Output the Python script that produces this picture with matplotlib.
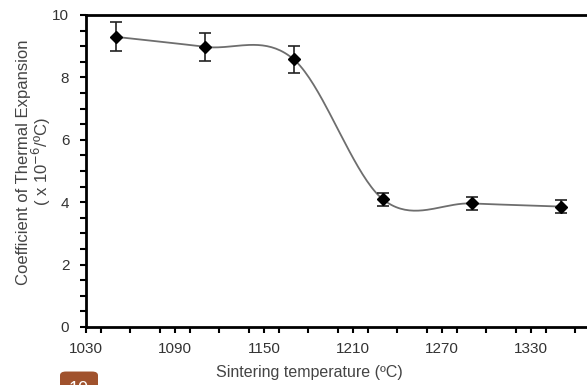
import numpy as np
import matplotlib
matplotlib.use("Agg")
import matplotlib.pyplot as plt
from matplotlib.ticker import MultipleLocator
from matplotlib.patches import FancyBboxPatch

temps = [1050, 1110, 1170, 1230, 1290, 1350]
cte = [9.3, 8.98, 8.58, 4.1, 3.96, 3.86]
err = [0.46, 0.45, 0.43, 0.21, 0.2, 0.2]
xticks = [1030, 1090, 1150, 1210, 1270, 1330]
yticks = [0, 2, 4, 6, 8, 10]

plt.rcParams['font.family'] = ['Liberation Sans', 'DejaVu Sans']

def catmull_rom(xs, ys, n=40):
    xs = np.asarray(xs, float); ys = np.asarray(ys, float)
    px = np.concatenate([[2*xs[0]-xs[1]], xs, [2*xs[-1]-xs[-2]]])
    py = np.concatenate([[2*ys[0]-ys[1]], ys, [2*ys[-1]-ys[-2]]])
    ox, oy = [], []
    for i in range(1, len(px)-2):
        t = np.linspace(0, 1, n, endpoint=False)
        for p, o in ((px, ox), (py, oy)):
            p0, p1, p2, p3 = p[i-1], p[i], p[i+1], p[i+2]
            c1 = p1 + (p2 - p0) / 6
            c2 = p2 - (p3 - p1) / 6
            o.extend((1-t)**3*p1 + 3*(1-t)**2*t*c1 + 3*(1-t)*t**2*c2 + t**3*p2)
    ox.append(xs[-1]); oy.append(ys[-1])
    return np.array(ox), np.array(oy)

fig = plt.figure(figsize=(5.87, 3.85), dpi=100)
ax = fig.add_axes([86/587, 58/385, 1 - 86/587 + 0.002, (327-15)/385])

sx, sy = catmull_rom(temps, cte)
ax.plot(sx, sy, color='#6e6e6e', lw=1.3, zorder=2)
ax.errorbar(temps, cte, yerr=err, fmt='D', color='black', ms=6,
            ecolor='#222222', elinewidth=1.2, capsize=4, capthick=1.2, zorder=3)

ax.set_xlim(1030, 1368.6)
ax.set_ylim(0, 10)
ax.set_xticks(xticks)
ax.set_yticks(yticks)
ax.xaxis.set_minor_locator(MultipleLocator(20))
ax.yaxis.set_minor_locator(MultipleLocator(0.5))
ax.tick_params(which='both', direction='out', width=1.5, color='black',
               labelsize=11, labelcolor='#333333')
ax.tick_params(axis='x', which='major', length=4, pad=7)
ax.tick_params(axis='y', which='major', length=4, pad=8)
ax.tick_params(which='minor', length=4)
for s in ['left', 'bottom', 'top']:
    ax.spines[s].set_linewidth(2)
    ax.spines[s].set_color('black')
ax.spines['right'].set_visible(False)

ax.set_xlabel('Sintering temperature (ºC)', fontsize=11.5, color='#444444',
              va='center', ha='center')
ax.xaxis.set_label_coords(0.444, -0.145)
ax.set_ylabel('Coefficient of Thermal Expansion\n( x 10$^{-6}$/ºC)', fontsize=12,
              color='#444444', linespacing=0.95, va='center', ha='center')
ax.yaxis.set_label_coords(-0.1026, 0.529)

fig.patches.append(FancyBboxPatch((60/587, -0.02), 38/587, 0.055,
                                  boxstyle='round,pad=0,rounding_size=0.01',
                                  transform=fig.transFigure, facecolor='#a0522d',
                                  edgecolor='none', figure=fig))
fig.text(79/587, -0.035, '10', color='white', fontsize=13, ha='center', va='bottom')

fig.savefig('out.png', dpi=100)
